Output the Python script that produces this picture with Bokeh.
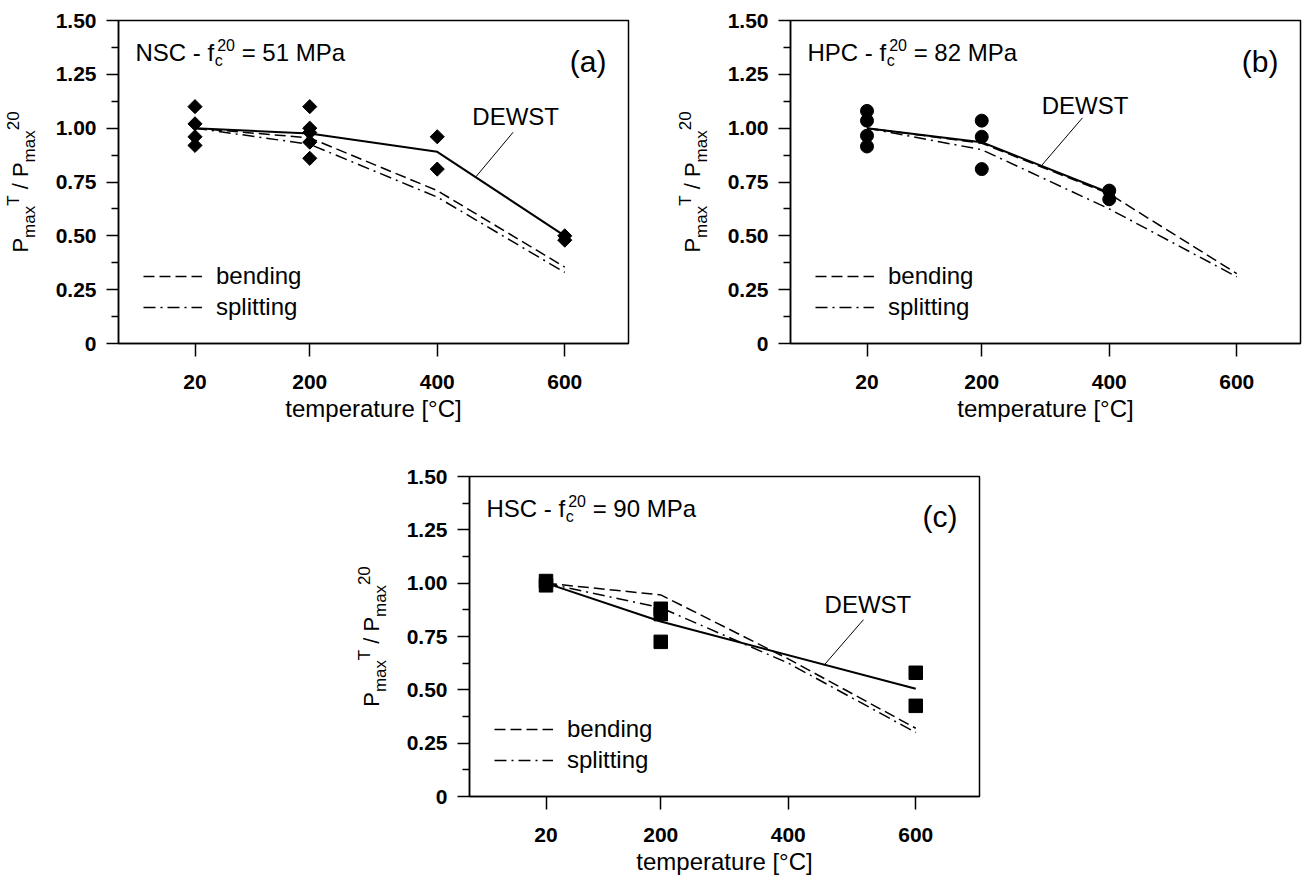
import math
from bokeh.plotting import figure
from bokeh.models import (Range1d, FixedTicker, CustomJSTickFormatter, Label,
                          Legend, LegendItem, Spacer)
from bokeh.layouts import column, row
from bokeh.embed import file_html
from bokeh.resources import INLINE

# ---------------- data ----------------
temps = [20, 200, 400, 600]
y_ticks = [0, 0.25, 0.5, 0.75, 1.0, 1.25, 1.5]
y_minor = [0.125, 0.375, 0.625, 0.875, 1.125, 1.375]

# (a) NSC - fc20 = 51 MPa
a_test_t = [20, 20, 20, 20, 200, 200, 200, 200, 200, 400, 400, 600, 600]
a_test_v = [1.10, 1.02, 0.96, 0.92, 1.10, 1.00, 0.98, 0.935, 0.86, 0.96, 0.81, 0.50, 0.48]
a_dewst_t = [20, 200, 400, 600]
a_dewst = [1.00, 0.975, 0.89, 0.50]
a_bend = [1.00, 0.955, 0.71, 0.355]
a_split = [1.00, 0.925, 0.68, 0.33]

# (b) HPC - fc20 = 82 MPa
b_test_t = [20, 20, 20, 20, 200, 200, 200, 400, 400]
b_test_v = [1.08, 1.035, 0.965, 0.915, 1.035, 0.96, 0.81, 0.71, 0.67]
b_dewst_t = [20, 200, 400]
b_dewst = [1.00, 0.935, 0.70]
b_bend = [1.00, 0.93, 0.695, 0.325]
b_split = [1.00, 0.90, 0.625, 0.31]

# (c) HSC - fc20 = 90 MPa
c_test_t = [20, 20, 200, 200, 200, 600, 600]
c_test_v = [1.01, 0.99, 0.88, 0.855, 0.725, 0.58, 0.425]
c_dewst_t = [20, 200, 600]
c_dewst = [1.00, 0.82, 0.505]
c_bend = [1.00, 0.945, 0.645, 0.32]
c_split = [1.00, 0.885, 0.625, 0.30]

# ---------------- styling helpers ----------------
FONT = "Liberation Sans"
FW = 510            # frame width px
XR = (-100, 700)
PPX = FW / (XR[1] - XR[0])
LBW = 48            # width of the y-label strip
BSH = 0.36          # baseline correction (em)

CW = {'P': 667, 'm': 833, 'a': 556, 'x': 500, 'T': 611, ' ': 278, '/': 278,
      '0': 556, '1': 556, '2': 556, '5': 556, '8': 556, '9': 556, 'c': 500,
      'f': 278, 'N': 722, 'S': 667, 'C': 722, 'H': 722, '-': 333, '=': 584,
      'M': 833}


def tw(s, size):
    return sum(CW.get(ch, 556) for ch in s) / 1000.0 * size


def lab(p, x, y, text, size, angle=0.0, align="left"):
    p.add_layout(Label(x=x, y=y, text=text, text_font=FONT,
                       text_font_size=f"{size}px", text_align=align,
                       text_baseline="alphabetic", angle=angle,
                       text_color="black"))


def ylabel_strip(height, bt, bb, Hf):
    """narrow figure carrying the rotated y-axis title with sub/superscripts"""
    s = figure(width=LBW, height=height, x_range=Range1d(0, LBW),
               y_range=Range1d(0, Hf), output_backend="svg",
               toolbar_location=None, x_axis_location=None,
               y_axis_location=None, min_border_left=0, min_border_right=0,
               min_border_top=bt, min_border_bottom=bb)
    s.grid.visible = False
    s.outline_line_color = None
    s.background_fill_color = "white"
    s.border_fill_color = "white"
    xb = 28
    pieces = [("P", 22, 0), ("max", 17, 7), ("T", 17, -9), (None, 22, 0),
              ("/", 22, 0), (None, 22, 0), ("P", 22, 0), ("max", 17, 7),
              ("20", 17, -9)]
    total = sum(tw(t if t else " ", sz) for t, sz, _ in pieces)
    pos = Hf / 2 - total / 2
    for txt, sz, sh in pieces:
        if txt is None:
            pos += tw(" ", sz)
            continue
        lab(s, xb + sh - BSH * sz, pos, txt, sz, angle=math.pi / 2)
        pos += tw(txt, sz)
    return s


def make_panel(width, height, bl, br, bt, bb, H, tag, name, mpa,
               test_t, test_v, marker, msize, mangle,
               dewst_t, dewst, bend, split, dewst_txt, leader):
    p = figure(width=width, height=height, x_range=Range1d(*XR),
               y_range=Range1d(0, 1.5), output_backend="svg",
               toolbar_location=None, min_border_left=bl,
               min_border_right=br, min_border_top=bt, min_border_bottom=bb)
    p.grid.visible = False
    p.outline_line_color = "black"
    p.outline_line_width = 1.5
    p.background_fill_color = "white"
    p.border_fill_color = "white"

    X = lambda px: XR[0] + px / PPX
    Y = lambda py: py * 1.5 / H

    def tlab(xpx, ypx, text, size, align="left"):
        # position in px from frame bottom-left, baseline-corrected
        lab(p, X(xpx), Y(ypx + BSH * size), text, size, align=align)

    xa = p.xaxis[0]
    xa.ticker = FixedTicker(ticks=temps)
    xa.minor_tick_line_color = None
    xa.major_tick_out = 13
    xa.major_tick_in = 0
    xa.major_label_standoff = 18
    xa.axis_line_width = 1.5
    xa.major_tick_line_width = 1.5
    xa.major_label_text_font = FONT
    xa.major_label_text_font_style = "bold"
    xa.major_label_text_font_size = "21px"
    xa.major_label_text_color = "black"
    xa.axis_label = "temperature [°C]"
    xa.axis_label_text_font = FONT
    xa.axis_label_text_font_style = "normal"
    xa.axis_label_text_font_size = "24px"
    xa.axis_label_text_color = "black"
    xa.axis_label_standoff = 3

    ya = p.yaxis[0]
    ya.ticker = FixedTicker(ticks=y_ticks, minor_ticks=y_minor)
    ya.formatter = CustomJSTickFormatter(
        code="return tick == 0 ? '0' : tick.toFixed(2);")
    ya.major_tick_out = 12
    ya.major_tick_in = 0
    ya.minor_tick_out = 7
    ya.minor_tick_in = 0
    ya.major_label_standoff = 10
    ya.axis_line_width = 1.5
    ya.major_tick_line_width = 1.5
    ya.minor_tick_line_width = 1.5
    ya.major_label_text_font = FONT
    ya.major_label_text_font_style = "bold"
    ya.major_label_text_font_size = "21px"
    ya.major_label_text_color = "black"

    # model curves
    p.line(dewst_t, dewst, line_color="black", line_width=2)
    rb = p.line(temps, bend, line_color="black", line_width=1.5,
                line_dash="11 5")
    rs = p.line(temps, split, line_color="black", line_width=1.5,
                line_dash="12 5 2 5")
    # tests
    p.scatter(test_t, test_v, marker=marker, size=msize, angle=mangle,
              fill_color="black", line_color="black")

    # DEWST label + leader
    lab(p, dewst_txt[0], dewst_txt[1] + BSH * 24 * 1.5 / H, "DEWST", 24,
        align="center")
    p.segment(x0=[leader[0]], y0=[leader[1]], x1=[leader[2]], y1=[leader[3]],
              line_color="black", line_width=1)

    # legend
    leg = Legend(items=[LegendItem(label="bending", renderers=[rb]),
                        LegendItem(label="splitting", renderers=[rs])],
                 location=(25, 22), glyph_width=59, glyph_height=28,
                 label_height=28, label_standoff=14, spacing=3, padding=0,
                 margin=0, border_line_color=None, background_fill_alpha=0,
                 label_text_font=FONT, label_text_font_size="24px",
                 label_text_color="black")
    p.add_layout(leg)

    # title with sub/superscript
    x0 = 17
    yb = H - 41
    pre = name + " - f"
    tlab(x0, yb, pre, 24)
    x1 = x0 + tw(pre, 24)
    tlab(x1 + 0.5, yb - 5, "c", 16)
    tlab(x1 + 3, yb + 11, "20", 16)
    x2 = max(x1 + 0.5 + tw("c", 16), x1 + 3 + tw("20", 16)) + tw(" ", 24)
    tlab(x2, yb, "= " + mpa + " MPa", 24)

    # panel tag
    tlab(FW - 22, H - 51.5, tag, 30, align="right")
    return p


HA = 428   # height of top row
HC = 449   # height of bottom row

sa = ylabel_strip(HA, 20, 85, 323)
pa = make_panel(624, HA, 70, 44, 20, 85, 323, "(a)", "NSC", "51",
                a_test_t, a_test_v, "square", 10, math.pi / 4,
                a_dewst_t, a_dewst, a_bend, a_split,
                (523, 1.012), (519, 0.981, 460, 0.772))
sb = ylabel_strip(HA, 20, 85, 323)
pb = make_panel(588, HA, 70, 8, 20, 85, 323, "(b)", "HPC", "82",
                b_test_t, b_test_v, "circle", 13, 0.0,
                b_dewst_t, b_dewst, b_bend, b_split,
                (362, 1.067), (358, 1.048, 294, 0.827))
sc = ylabel_strip(HC, 48, 79, 322)
pc = make_panel(600, HC, 70, 20, 48, 79, 322, "(c)", "HSC", "90",
                c_test_t, c_test_v, "square", 13.5, 0.0,
                c_dewst_t, c_dewst, c_bend, c_split,
                (525, 0.862), (518, 0.829, 456, 0.615))

layout = column(row(sa, pa, sb, pb), row(Spacer(width=351, height=HC), sc, pc))
open("out.html", "w").write(file_html(layout, INLINE))
